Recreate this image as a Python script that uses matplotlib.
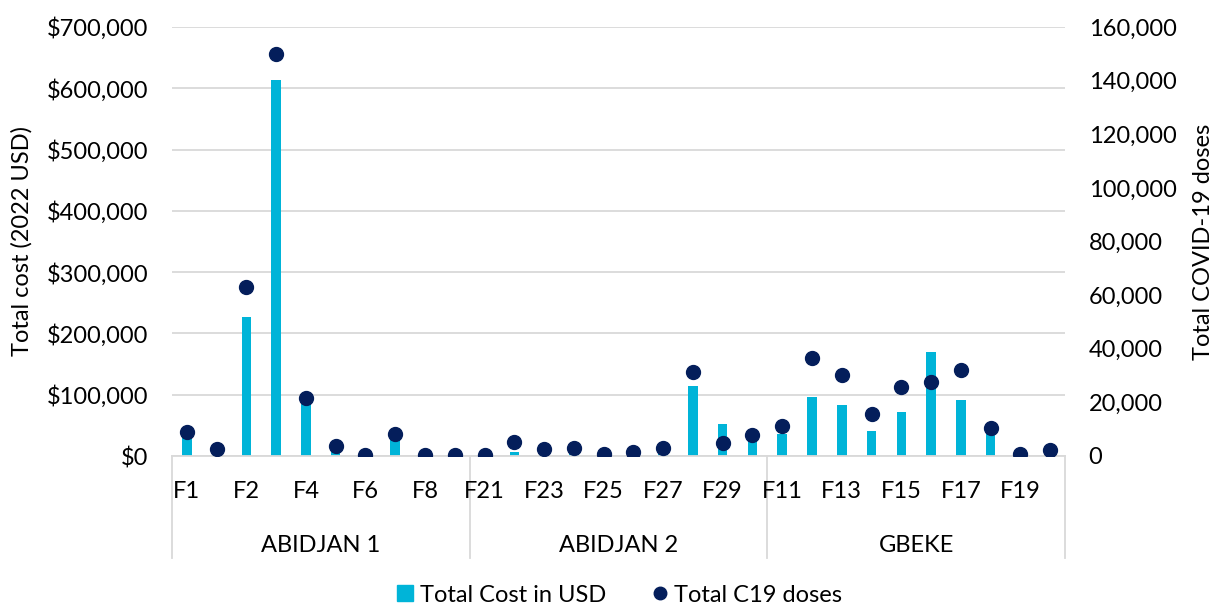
import matplotlib
matplotlib.use("Agg")
import matplotlib.pyplot as plt
from matplotlib.lines import Line2D
from matplotlib.ticker import FuncFormatter, MultipleLocator

# ---- data ----
groups = ["ABIDJAN 1", "ABIDJAN 2", "GBEKE"]
facilities = [
    ["F1", "F10", "F2", "F3", "F4", "F5", "F6", "F7", "F8", "F9"],
    ["F21", "F22", "F23", "F24", "F25", "F26", "F27", "F28", "F29", "F30"],
    ["F11", "F12", "F13", "F14", "F15", "F16", "F17", "F18", "F19", "F20"],
]
total_cost = [
    34000, 1000, 226000, 614000, 95000, 10000, 500, 29000, 300, 300,
    500, 6500, 2000, 3000, 500, 800, 3000, 114000, 52000, 30000,
    36000, 97000, 83000, 41000, 71000, 169000, 92000, 40000, 500, 1000,
]
total_doses = [
    9000, 2500, 63000, 150000, 21500, 3700, 400, 8200, 200, 200,
    300, 5200, 2500, 2900, 900, 1500, 2900, 31500, 5000, 7800,
    11200, 36700, 30200, 15800, 25900, 27600, 32000, 10600, 750, 2200,
]

bar_color = "#00B4D8"
dot_color = "#041E5B"
grid_color = "#D9D9D9"
font = ["Lato", "DejaVu Sans"]
plt.rcParams["font.family"] = font
fs = 17

labels = [f for g in facilities for f in g]
x = list(range(len(labels)))

fig = plt.figure(figsize=(12.13, 6.08), dpi=100)
ax = fig.add_axes([172 / 1213, 1 - 456 / 608, 893 / 1213, 429 / 608])
ax2 = ax.twinx()

ax.bar(x, total_cost, width=0.32, color=bar_color, zorder=2)
ax2.plot(x, total_doses, "o", color=dot_color, ms=10, zorder=3)

ax.set_xlim(-0.5, len(labels) - 0.5)
ax.set_ylim(0, 700000)
ax2.set_ylim(0, 160000)
ax.yaxis.set_major_locator(MultipleLocator(100000))
ax2.yaxis.set_major_locator(MultipleLocator(20000))
ax.yaxis.set_major_formatter(FuncFormatter(lambda v, p: f"${v:,.0f}"))
ax2.yaxis.set_major_formatter(FuncFormatter(lambda v, p: f"{v:,.0f}"))
ax.grid(axis="y", color=grid_color, lw=1.3, zorder=0)
ax.set_axisbelow(True)

for a in (ax, ax2):
    for s in ("top", "left", "right", "bottom"):
        a.spines[s].set_visible(False)
    a.tick_params(axis="y", length=0, labelsize=fs, colors="#000000")
ax.tick_params(axis="y", pad=17)
ax2.tick_params(axis="y", pad=17)
ax.spines["bottom"].set_visible(True)
ax.spines["bottom"].set_color(grid_color)
ax.spines["bottom"].set_linewidth(1.3)

ax.set_xticks([])
ax2.set_xticks([])

ax.set_ylabel("Total cost (2022 USD)", fontsize=fs, labelpad=10)
ax2.set_ylabel("Total COVID-19 doses", fontsize=fs, labelpad=12)

# multi-level category axis
trans = ax.get_xaxis_transform()
for i, lab in enumerate(labels):
    if i % 2 == 0:
        ax.text(i, -36 / 429, lab, transform=trans, ha="center", va="center",
                fontsize=fs)
n = len(facilities[0])
for gi, g in enumerate(groups):
    cx = gi * n + (n - 1) / 2
    ax.text(cx, -90 / 429, g, transform=trans, ha="center", va="center",
            fontsize=fs)
for b in range(len(groups) + 1):
    xb = b * n - 0.5
    ax.plot([xb, xb], [0, -102 / 429], transform=trans, color=grid_color,
            lw=1.3, clip_on=False)

handles = [
    Line2D([], [], marker="s", ls="", color=bar_color, ms=11),
    Line2D([], [], marker="o", ls="", color=dot_color, ms=9),
]
fig.legend(handles, ["Total Cost in USD", "Total C19 doses"], loc="center",
           bbox_to_anchor=(618 / 1213, 1 - 595 / 608), ncol=2, frameon=False,
           fontsize=fs, handletextpad=0.1, columnspacing=1.8,
           handlelength=1.0)

fig.savefig("out.png", dpi=100)
